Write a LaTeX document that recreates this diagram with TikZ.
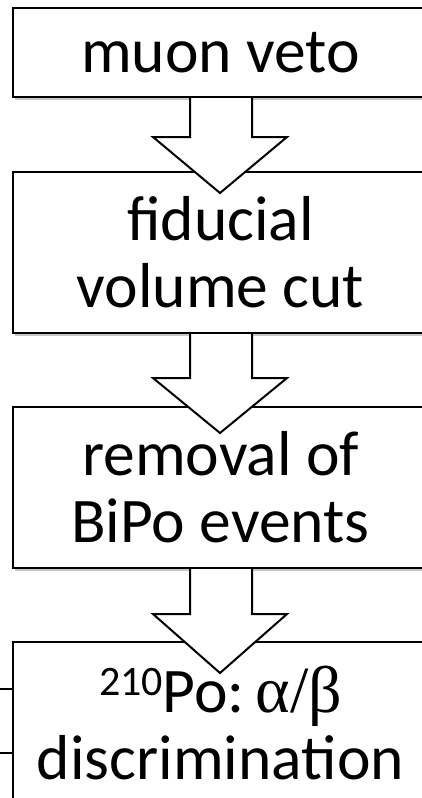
\documentclass[tikz,border=0pt]{standalone}
\usepackage{fontspec}
\setmainfont{Carlito}
\newfontfamily\grk{Liberation Serif}
\usetikzlibrary{calc,shadows}
\begin{document}
\begin{tikzpicture}[x=1pt,y=-1pt,
  stagebox/.style={draw=black, line width=2pt, fill=white, minimum width=415pt, inner sep=0pt,
    align=center, font=\fontsize{63.5}{67}\selectfont,
    drop shadow={shadow xshift=2pt, shadow yshift=-3pt, opacity=0.22, fill=black}},
  fatarrow/.style={draw=black, line width=2pt, fill=white, line join=miter}]
\useasboundingbox (0,0) rectangle (422,798);
\clip (0,0) rectangle (422,798);
\node[stagebox, minimum height=89pt] (b1) at (220.5,52.5) {muon veto};
\node[stagebox, minimum height=161pt] (b2) at (220.5,252.5) {fiducial\\volume cut};
\node[stagebox, minimum height=161pt] (b3) at (220.5,487.5) {removal of\\BiPo events};
\node[stagebox, minimum height=161pt] (b4) at (220.5,722.5) {\raisebox{0.55ex}{\fontsize{42}{42}\selectfont 210}Po:\,{\grk\fontsize{66}{67}\selectfont α/β}\\discrimination};
% arrows
\foreach \s/\t/\hb in {b1/193/137, b2/433/378, b3/673/614}{
  \coordinate (\s-l) at ($(\s.south)+(-30.5,0)$);
  \coordinate (\s-r) at ($(\s.south)+(31.5,0)$);
  \draw[fatarrow] (\s-l) -- (190,\hb) -- (153,\hb) -- (220,\t) -- (287,\hb) -- (252,\hb) -- (\s-r);
}
% left ticks
\coordinate (t1) at (0,689);
\coordinate (t2) at (0,753);
\draw[line width=2pt] (t1) -- (t1 -| b4.west);
\draw[line width=2pt] (t2) -- (t2 -| b4.west);
\end{tikzpicture}
\end{document}
